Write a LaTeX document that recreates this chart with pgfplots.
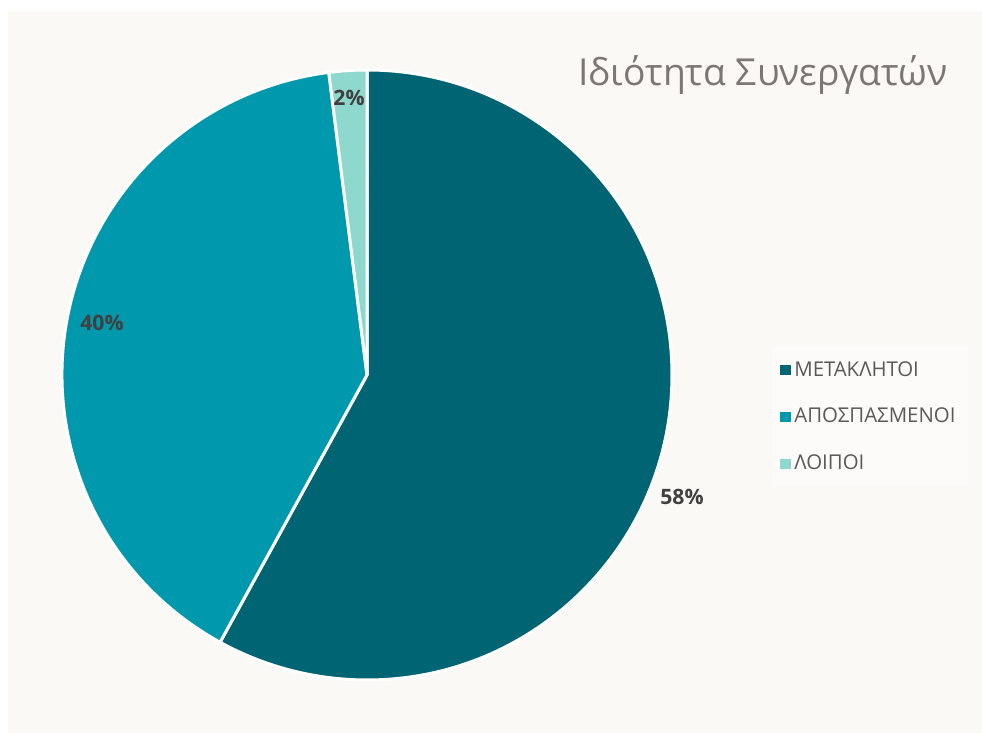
\documentclass[border=0pt]{standalone}
\usepackage{pgfplots}
\pgfplotsset{compat=1.18}
\usepackage{fontspec}
\setmainfont{Open Sans}
\definecolor{panel}{HTML}{FAF9F6}
\definecolor{legbg}{HTML}{FCFBF9}
\definecolor{sliceA}{HTML}{006473}
\definecolor{sliceB}{HTML}{0098AD}
\definecolor{sliceC}{HTML}{8ED8CE}
\definecolor{titlegray}{HTML}{7A7775}
\definecolor{leggray}{HTML}{5A5A5A}
\definecolor{lblgray}{HTML}{404040}

% shares in percent, clockwise from 12 o'clock
\def\va{58}
\def\vb{40}
\def\vc{2}

\begin{document}
\begin{tikzpicture}
\begin{axis}[
    x=0.5pt, y=0.5pt,
    xmin=0, xmax=982, ymin=0, ymax=733,
    axis lines=none, scale only axis, clip=false,
    legend style={at={(axis cs:772,386)}, anchor=north west,
        draw=none, fill=legbg, text=leggray,
        font=\fontsize{10.2}{12}\selectfont,
        row sep=10.5pt, inner xsep=4pt, inner ysep=5pt},
    legend cell align=left,
    legend image code/.code={\fill[#1] (0pt,-2.3pt) rectangle (4.6pt,2.3pt);},
]
\fill[white] (axis cs:0,0) rectangle (axis cs:982,733);
\fill[panel] (axis cs:8,0) rectangle (axis cs:982,722);

\pgfmathsetmacro{\aa}{90}
\pgfmathsetmacro{\ab}{90-3.6*\va}
\pgfmathsetmacro{\ac}{\ab-3.6*\vb}
\pgfmathsetmacro{\ad}{\ac-3.6*\vc}
\fill[sliceA, draw=white, line width=1.5pt, line join=round] (axis cs:367,358) -- ++(\aa:152.5pt)
    arc[start angle=\aa, end angle=\ab, radius=152.5pt] -- cycle;
\fill[sliceB, draw=white, line width=1.5pt, line join=round] (axis cs:367,358) -- ++(\ab:152.5pt)
    arc[start angle=\ab, end angle=\ac, radius=152.5pt] -- cycle;
\fill[sliceC, draw=white, line width=1.5pt, line join=round] (axis cs:367,358) -- ++(\ac:152.5pt)
    arc[start angle=\ac, end angle=\ad, radius=152.5pt] -- cycle;

\node[font=\bfseries\fontsize{10.6}{12}\selectfont, text=lblgray] at (axis cs:682,236) {\va\%};
\node[font=\bfseries\fontsize{10.6}{12}\selectfont, text=lblgray] at (axis cs:102,410) {\vb\%};
\node[font=\bfseries\fontsize{10.6}{12}\selectfont, text=lblgray] at (axis cs:349,635) {\vc\%};

\node[font=\fontsize{18.6}{21}\selectfont, text=titlegray] at (axis cs:763,658) {Ιδιότητα Συνεργατών};

\addlegendimage{sliceA}\addlegendentry{ΜΕΤΑΚΛΗΤΟΙ}
\addlegendimage{sliceB}\addlegendentry{ΑΠΟΣΠΑΣΜΕΝΟΙ}
\addlegendimage{sliceC}\addlegendentry{ΛΟΙΠΟΙ}
\end{axis}
\end{tikzpicture}
\end{document}
